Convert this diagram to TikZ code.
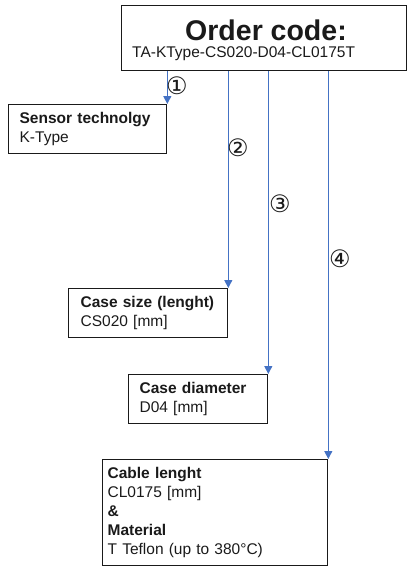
\documentclass[tikz,border=0pt]{standalone}
\usepackage{fontspec}
\setmainfont{Liberation Sans}
\newfontfamily\circfont{DejaVu Sans}
\usetikzlibrary{positioning,calc,arrows.meta}
\definecolor{dark}{HTML}{1A1A1A}
\definecolor{lnblue}{HTML}{4472C4}
\tikzset{
  every node/.append style={font=\fontsize{15.5}{19}\selectfont, text=dark},
  box/.style={draw=dark, line width=1.3pt, anchor=north west, align=left,
              inner ysep=0pt},
  ttl/.style={font=\fontsize{28.5}{30}\selectfont\bfseries},
  num/.style={font=\circfont\fontsize{24}{24}\selectfont, inner sep=0pt},
  arr/.style={-{Triangle[length=8pt,width=8pt]}, line width=0.9pt, draw=lnblue},
}

\begin{document}
\begin{tikzpicture}[x=1pt,y=-1pt]
  \useasboundingbox (0,0) rectangle (408,566);
  % order code box
  \node[box, minimum width=285pt, minimum height=65pt] (order) at (121,5) {};
  \node[ttl] (title) at (266,30) {Order code:};
  \node[anchor=west, inner sep=0pt] (code) at (132,54) {TA-KType-CS020-D04-CL0175T};
  % parts of the code
  \node[box, minimum width=158pt, text width=136pt, inner xsep=11pt,
        minimum height=49pt] (sensor) at (8,104)
    {\textbf{Sensor technolgy}\\K-Type};
  \node[box, minimum width=159pt, text width=135pt, inner xsep=12pt,
        minimum height=49pt] (csize) at (68,288)
    {\textbf{Case size (lenght)}\\CS020 [mm]};
  \node[box, minimum width=139pt, text width=117pt, inner xsep=11pt,
        minimum height=49pt] (cdiam) at (128,374)
    {\textbf{Case diameter}\\D04 [mm]};
  \node[box, minimum width=225pt, text width=215pt, inner xsep=5pt,
        minimum height=106pt] (cable) at (102,459)
    {\textbf{Cable lenght}\\CL0175 [mm]\\\textbf{\&}\\\textbf{Material}\\T Teflon (up to 380°C)};
  % arrows with their numbers
  \foreach \b/\n/\lx/\ly in {sensor/①/177/86, csize/②/238/148,
                            cdiam/③/280/204, cable/④/340/259}{
    \draw[arr] (\b.north east |- order.south) -- (\b.north east);
    \node[num] (n\b) at (\lx,\ly) {\n};
  }
\end{tikzpicture}
\end{document}
